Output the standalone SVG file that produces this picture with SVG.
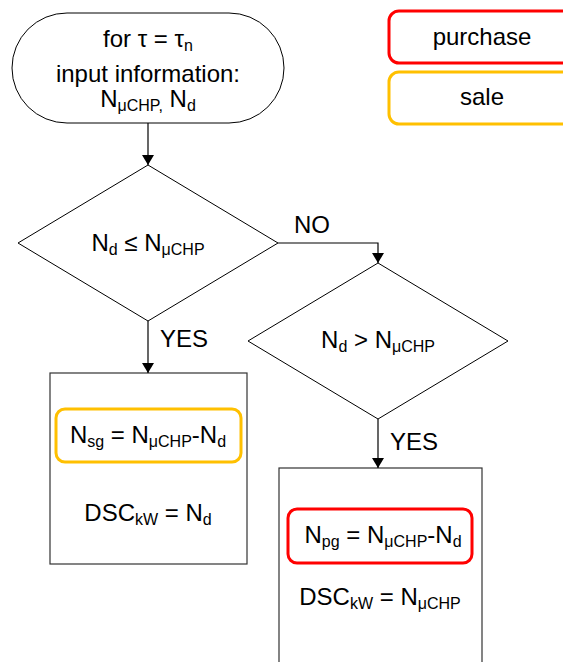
<svg xmlns="http://www.w3.org/2000/svg" width="563" height="662" viewBox="0 0 563 662">
<style>
text{font-family:"Liberation Sans",Arial,sans-serif;font-size:24px;fill:#000}
.c{text-anchor:middle}
.s{font-size:16px}
.shape{fill:#fff;stroke:#000;stroke-width:1}
.box{fill:#fff;stroke:#333;stroke-width:1.2}
.red{fill:none;stroke:#f00;stroke-width:3}
.org{fill:none;stroke:#ffc000;stroke-width:3}
.ln{fill:none;stroke:#000;stroke-width:1.2}
</style>
<defs>
<marker id="ah" viewBox="0 0 10 12" refX="10" refY="6" markerWidth="10" markerHeight="12" markerUnits="userSpaceOnUse" orient="auto">
<path d="M0,0 L10,6 L0,12 Z" fill="#000"/>
</marker>
</defs>
<g id="legend-purchase"><rect class="red" x="389" y="11" width="200" height="52" rx="10"/><text class="c" x="482" y="45">purchase</text></g>
<g id="legend-sale"><rect class="org" x="389" y="72" width="200" height="52" rx="10"/><text class="c" x="482" y="105">sale</text></g>
<g id="start">
<rect class="shape" x="12" y="13" width="272" height="110" rx="55"/>
<text class="c" x="148" y="47">for τ = τ<tspan class="s" dy="4">n</tspan></text>
<text class="c" x="148" y="82">input information:</text>
<text class="c" x="148" y="107">N<tspan class="s" dy="4">μCHP,</tspan><tspan dy="-4"> N</tspan><tspan class="s" dy="4">d</tspan></text>
</g>
<g id="decision1">
<polygon class="shape" points="148,165 278,243 148,321 18,243"/>
<text class="c" x="148" y="251">N<tspan class="s" dy="4">d</tspan><tspan dy="-4"> ≤ N</tspan><tspan class="s" dy="4">μCHP</tspan></text>
</g>
<g id="decision2">
<polygon class="shape" points="378,263 508,341 378,419 248,341"/>
<text class="c" x="378" y="348">N<tspan class="s" dy="4">d</tspan><tspan dy="-4"> &gt; N</tspan><tspan class="s" dy="4">μCHP</tspan></text>
</g>
<g id="process1">
<rect class="box" x="50" y="373" width="197" height="191"/>
<rect class="org" x="56" y="409" width="185" height="53" rx="9"/>
<text class="c" x="148" y="443">N<tspan class="s" dy="4">sg</tspan><tspan dy="-4"> = N</tspan><tspan class="s" dy="4">μCHP</tspan><tspan dy="-4">-N</tspan><tspan class="s" dy="4">d</tspan></text>
<text class="c" x="148" y="521">DSC<tspan class="s" dy="4">kW</tspan><tspan dy="-4"> = N</tspan><tspan class="s" dy="4">d</tspan></text>
</g>
<g id="process2">
<rect class="box" x="279" y="468" width="203" height="220"/>
<rect class="red" x="288" y="509" width="184" height="54" rx="9"/>
<text class="c" x="383" y="543">N<tspan class="s" dy="4">pg</tspan><tspan dy="-4"> = N</tspan><tspan class="s" dy="4">μCHP</tspan><tspan dy="-4">-N</tspan><tspan class="s" dy="4">d</tspan></text>
<text class="c" x="380" y="605">DSC<tspan class="s" dy="4">kW</tspan><tspan dy="-4"> = N</tspan><tspan class="s" dy="4">μCHP</tspan></text>
</g>
<g id="connectors">
<path class="ln" d="M148,123 V165" marker-end="url(#ah)"/>
<path class="ln" d="M278,243 H378 V263" marker-end="url(#ah)"/>
<path class="ln" d="M148,321 V373" marker-end="url(#ah)"/>
<path class="ln" d="M378,419 V468" marker-end="url(#ah)"/>
<text x="294" y="233">NO</text>
<text x="160" y="347">YES</text>
<text x="390" y="450">YES</text>
</g>
</svg>
